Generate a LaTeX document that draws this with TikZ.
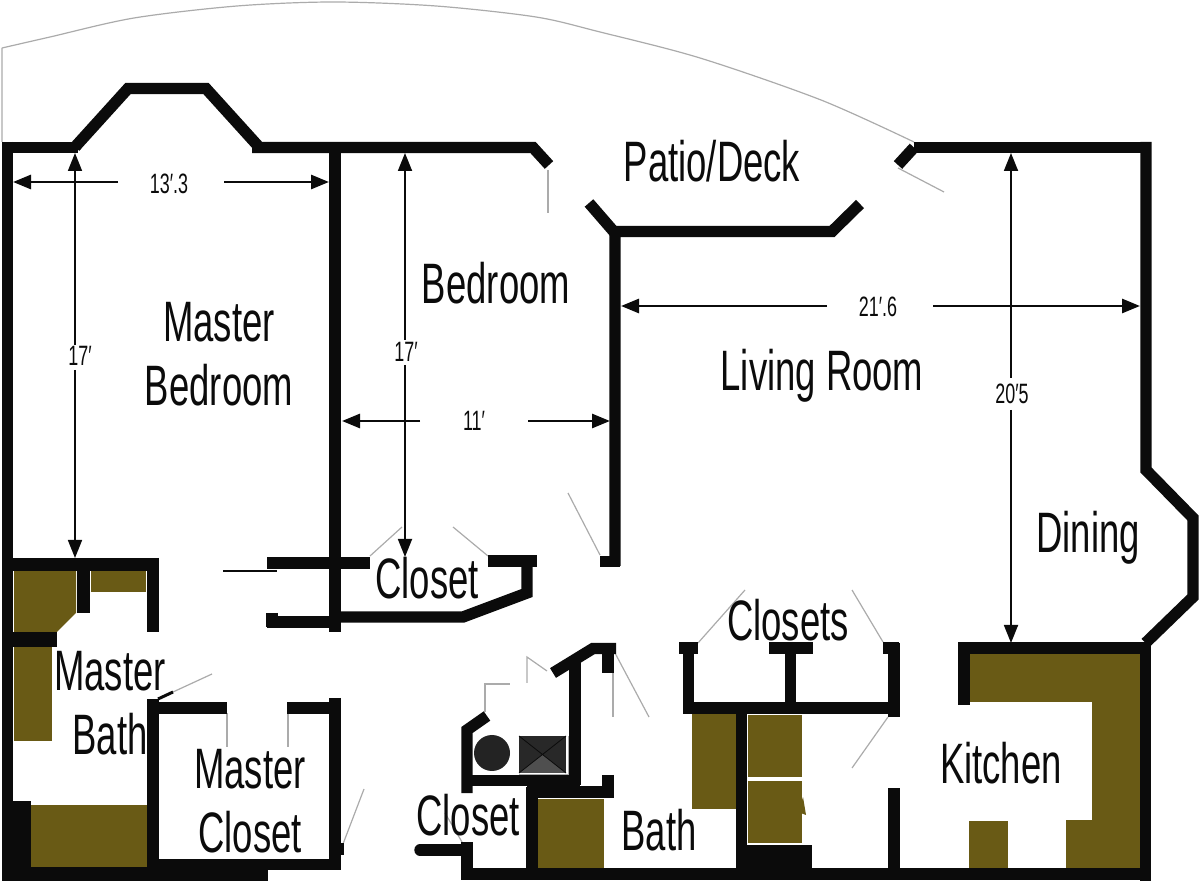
\documentclass[tikz,border=0pt]{standalone}
\usepackage{fontspec}
\setmainfont[FakeStretch=0.64]{Liberation Sans}
\usetikzlibrary{arrows.meta}
\definecolor{wallblack}{HTML}{0B0B0B}
\definecolor{counter}{HTML}{695A15}
\definecolor{doorgray}{HTML}{ABABAB}
\tikzset{
    wall/.style={line width=5.7pt, color=wallblack},
    door/.style={line width=0.6pt, color=doorgray},
    counterbox/.style={fill=counter},
    block/.style={fill=wallblack},
    dim/.style={line width=0.9pt, color=wallblack, -{Triangle[length=9pt,width=7pt]}},
    hdim/.style={dim, line width=1.4pt},
    room/.style={font=\fontsize{28.5}{30}\selectfont, inner sep=0pt, text=wallblack},
    size/.style={font=\fontsize{14}{16}\selectfont, inner sep=0pt, text=wallblack}
}
\begin{document}
\begin{tikzpicture}[x=0.5pt,y=-0.5pt]
    \useasboundingbox (0,0) rectangle (1200,881);

    \fill[counterbox] (14,571) -- (76,571) -- (76,613) -- (57,632) -- (14,632) -- cycle;
    \fill[counterbox] (91,571) rectangle (146,592);
    \fill[counterbox] (14,647) rectangle (52,741);
    \fill[counterbox] (31,805) rectangle (147,867);
    \fill[counterbox] (537,799) rectangle (604,868);
    \fill[counterbox] (692,713) rectangle (736,809);
    \fill[counterbox] (748,715) rectangle (802,777);
    \fill[counterbox] (748,781) rectangle (802,843);
    \fill[counterbox] (798,812) -- (803,797) -- (806,815) -- cycle;
    \fill[counterbox] (969,653) -- (1140,653) -- (1140,868) -- (1066,868) -- (1066,820)
        -- (1092,820) -- (1092,702) -- (969,702) -- cycle;
    \fill[counterbox] (969,821) rectangle (1008,868);

    \draw[door] (548,170) -- (548,213);
    \draw[door] (2,142) -- (2,48) plot[smooth] coordinates {(2,48) (50,37) (134,18) (237,6) (333,2) (436,6) (536,17) (600,32) (700,58) (821,100) (914,142)};
    \draw[door] (898,168) -- (944,192);
    \draw[door] (600,555) -- (568,493);
    \draw[door] (370,556) -- (402,527);
    \draw[door] (488,556) -- (453,527);
    \draw[door] (173,692) -- (212,674);
    \draw[door] (227,713) -- (227,747);
    \draw[door] (288,713) -- (288,747);
    \draw[door] (343,844) -- (364,789);
    \draw[door] (485,712) -- (485,684) -- (510,684);
    \draw[door] (527,683) -- (527,657) -- (547,671);
    \draw[door] (613,673) -- (613,717);
    \draw[door] (615,653) -- (649,717);
    \draw[door] (698,643) -- (745,590);
    \draw[door] (883,642) -- (852,590);
    \draw[door] (888,717) -- (852,768);
    \draw[door] (462,842) -- (445,813);

    \draw[wall] (2,147.5) -- (78,147.5);
    \draw[wall] (75,150) -- (75,147) -- (128,88.5) -- (206,88.5) -- (259,147);
    \draw[wall] (252,147.5) -- (533,147.5) -- (549,165);
    \draw[wall] (7.5,142) -- (7.5,881);
    \draw[wall] (335,147) -- (335,632);
    \draw[wall] (914,147.5) -- (1146,147.5);
    \draw[wall] (914,147.5) -- (898,165);
    \draw[wall] (1146,142) -- (1146,470) -- (1193,518) -- (1193,597) -- (1145.5,643);
    \draw[wall] (1145.5,643) -- (1145.5,881);
    \draw[wall] (964,705) -- (964,648) -- (1151,648);
    \draw[wall] (615,566) -- (615,231.5) -- (832,231.5) -- (860,204);
    \draw[wall] (589,203) -- (615,233);
    \draw[wall] (600,561.5) -- (620,561.5);
    \draw[wall, line width=6.5pt] (12,564.5) -- (158,564.5);
    \draw[wall] (153,558) -- (153,632);
    \draw[wall, line width=6.5pt] (83.5,565) -- (83.5,613);
    \draw[wall, line width=7.5pt] (12,639.5) -- (57,639.5);
    \draw[wall] (267,563) -- (370,563);
    \draw[wall] (267,622) -- (335,622);
    \draw[wall] (272,613) -- (272,627);
    \draw[wall, line width=1.2pt] (223,571) -- (277,571);
    \draw[wall] (488,561) -- (537,561);
    \draw[wall] (527,561) -- (527,593) -- (463,617) -- (330,617);
    \draw[wall] (153,699) -- (153,881);
    \draw[wall] (148,708) -- (227,708);
    \draw[wall] (287,708) -- (341,708);
    \draw[wall] (335,698) -- (335,870);
    \draw[wall] (148,864.5) -- (341,864.5);
    \draw[wall, line width=1.5pt] (158,699) -- (173,692);
    \fill[block] (341,843) rectangle (344,855);
    \fill[block] (2,867) rectangle (268,881);
    \fill[block] (12,801) rectangle (31,881);

    \draw[wall] (467,793) -- (467,730) -- (487,716);
    \draw[wall] (462,780.5) -- (580,780.5);
    \fill[block] (527,786) rectangle (613,798);
    \draw[wall] (608,775) -- (608,798);
    \draw[wall] (532,787) -- (532,868);
    \draw[wall] (575,785) -- (575,662);
    \draw[wall] (553,673) -- (593,648.5) -- (616,648.5);
    \draw[wall] (608,648) -- (608,673);
    \draw[wall, line cap=round] (420,850) -- (462,850);
    \draw[wall] (467,842) -- (467,880);
    \draw[wall] (462,874) -- (1151,874);

    \draw[wall] (679,648) -- (698,648);
    \draw[wall] (688.5,648) -- (688.5,708) -- (899,708);
    \draw[wall] (769,648) -- (813,648);
    \draw[wall] (790.5,648) -- (790.5,703);
    \draw[wall] (883,648) -- (899,648);
    \draw[wall] (894,643) -- (894,717);
    \draw[wall] (741.5,713) -- (741.5,870);
    \draw[wall] (894,788) -- (894,870);
    \fill[block] (747,845) rectangle (812,870);

    \fill[wallblack!90!white] (492,753) circle (18);
    \fill[wallblack!88!white] (519,736) rectangle (566,773);
    \fill[wallblack!72!white] (519,773) -- (542.5,754.5) -- (566,773) -- cycle;
    \draw[wallblack, line width=0.4pt] (519,736) -- (566,773) (566,736) -- (519,773);
    \draw[door, line width=0.4pt] (519,774) -- (568,774) -- (568,736);

    \draw[hdim] (118,182) -- (13,182);
    \draw[hdim] (224,182) -- (329,182);
    \draw[dim] (75,345) -- (75,153);
    \draw[dim] (75,370) -- (75,558);
    \draw[dim] (405,340) -- (405,153);
    \draw[dim] (405,365) -- (405,557);
    \draw[hdim] (420,421) -- (342,421);
    \draw[hdim] (528,421) -- (610,421);
    \draw[hdim] (827,306) -- (621,306);
    \draw[hdim] (933,306) -- (1140,306);
    \draw[dim] (1011,378) -- (1011,153);
    \draw[dim] (1011,410) -- (1011,643);

    \node[size] (width1) at (169,184) {13′.3};
    \node[size] (length1) at (80,356) {17′};
    \node[size] (length2) at (406,352) {17′};
    \node[size] (width2) at (474,421) {11′};
    \node[size] (width3) at (878,307) {21′.6};
    \node[size] (length3) at (1012,394) {20′5};

    \node[room] (master1) at (219,322) {Master};
    \node[room] (bedroom1) at (219,385) {Bedroom};
    \node[room] (bedroom2) at (496,283) {Bedroom};
    \node[room] (patio) at (712,161) {Patio/Deck};
    \node[room] (living) at (822,376) {Living Room};
    \node[room] (dining) at (1088,538) {Dining};
    \node[room] (closet1) at (427,578) {Closet};
    \node[room] (closets) at (788,620) {Closets};
    \node[room] (master2) at (110,671) {Master};
    \node[room] (bath1) at (110,734) {Bath};
    \node[room] (master3) at (250,769) {Master};
    \node[room] (closet2) at (250,832) {Closet};
    \node[room] (closet3) at (468,815) {Closet};
    \node[room] (bath2) at (659,830) {Bath};
    \node[room] (kitchen) at (1001,763) {Kitchen};
\end{tikzpicture}
\end{document}
